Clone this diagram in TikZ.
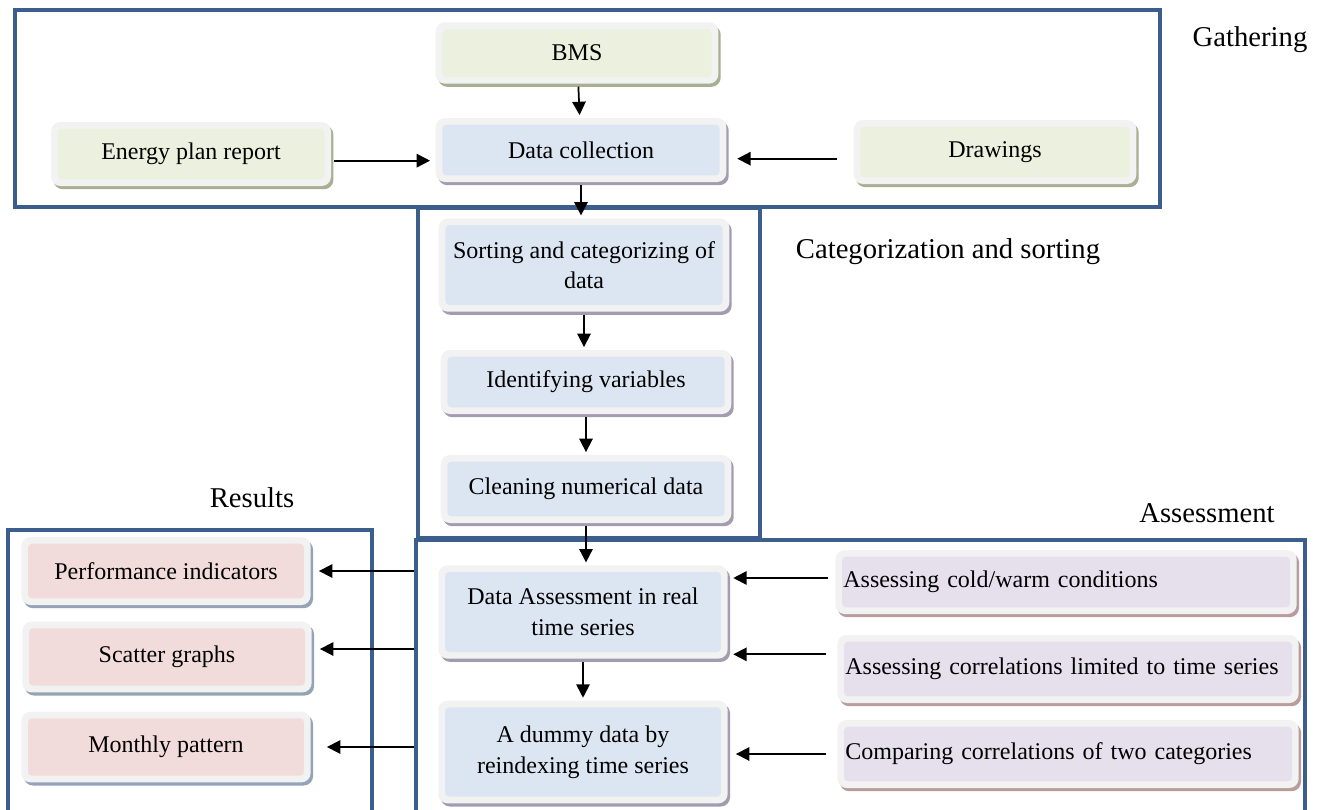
\documentclass[tikz,border=0pt]{standalone}
\usepackage{fontspec}
\setmainfont{Liberation Serif}
\usetikzlibrary{positioning,calc,shadows,arrows.meta}

\definecolor{framec}{HTML}{3B5E8C}
\definecolor{cardedge}{HTML}{F2F2F2}
\definecolor{greenin}{HTML}{EBF1DE}
\definecolor{greensh}{HTML}{A9AF92}
\definecolor{bluein}{HTML}{DCE6F2}
\definecolor{bluesh}{HTML}{A39CB0}
\definecolor{pinkin}{HTML}{F2DCDB}
\definecolor{pinksh}{HTML}{94A3B8}
\definecolor{purplein}{HTML}{E5E0EC}
\definecolor{purplesh}{HTML}{B99C9C}

\newcommand\boxfont{\fontsize{18}{23}\selectfont}
\newcommand\headfont{\fontsize{21.5}{26}\selectfont}

\begin{document}
\begin{tikzpicture}[
    x=0.75pt, y=-0.75pt,
    card/.style n args={2}{rounded corners=7pt, fill=cardedge, inner sep=0pt,
        drop shadow={shadow xshift=1.8pt, shadow yshift=-2.4pt, fill=#2, opacity=1},
        path picture={\fill[#1, rounded corners=3pt]
            ([shift={(5pt,-5pt)}]path picture bounding box.north west) rectangle
            ([shift={(-5pt,5pt)}]path picture bounding box.south east);},
        font=\boxfont, align=center},
    greencard/.style={card={greenin}{greensh}},
    bluecard/.style={card={bluein}{bluesh}},
    pinkcard/.style={card={pinkin}{pinksh}},
    purplecard/.style={card={purplein}{purplesh}, align=left, inner xsep=6pt, text width=334pt},
    stage/.style={draw=framec, line width=3pt, inner sep=0pt},
    stagelabel/.style={font=\headfont},
    arr/.style={-{Triangle[length=10pt,width=10pt]}, line width=1.3pt, draw=black, shorten >=2pt, shorten <=2pt}
]
    \clip (0,0) rectangle (1322,810);

    % Stage frames
    \node[stage, minimum width=858.75pt, minimum height=147.75pt] (gather) at (587.5,108.5) {};
    \node[stage, minimum width=256.5pt, minimum height=247.5pt] (categ) at (589,373) {};
    \node[stage, minimum width=273pt, minimum height=217.5pt] (results) at (190,675) {};
    \node[stage, minimum width=666.75pt, minimum height=210pt] (assess) at (860.5,680) {};

    \node[stagelabel] (gatherlbl) at (1250,40) {Gathering};
    \node[stagelabel] (categlbl) at (948,252) {Categorization and sorting};
    \node[stagelabel] (resultslbl) at (252,498) {Results};
    \node[stagelabel] (assesslbl) at (1207,513) {Assessment};

    % Gathering
    \node[greencard, minimum width=212pt, minimum height=46pt] (bms) at (577,53) {BMS};
    \node[bluecard, minimum width=218pt, minimum height=48pt] (dc) at (581,150) {Data collection};
    \node[greencard, minimum width=210pt, minimum height=48pt] (energy) at (191,154) {Energy plan report};
    \node[greencard, minimum width=212pt, minimum height=48pt] (drawings) at (995,152) {Drawings};

    % Categorization and sorting
    \node[bluecard, minimum width=218pt, minimum height=70pt] (sorting) at (584,265) {Sorting and categorizing of\\data};
    \node[bluecard, minimum width=218pt, minimum height=48pt] (ident) at (586,382) {Identifying variables};
    \node[bluecard, minimum width=218pt, minimum height=51pt] (clean) at (586,489) {Cleaning numerical data};

    % Assessment
    \node[bluecard, minimum width=217pt, minimum height=70pt] (dataA) at (583,612) {Data Assessment in real\\time series};
    \node[bluecard, minimum width=217pt, minimum height=77pt] (dummy) at (583,752) {A dummy data by\\reindexing time series};
    \node[purplecard, minimum height=48pt] (cold) at (1066,582) {Assessing cold/warm conditions};
    \node[purplecard, minimum height=51pt] (corr) at (1068,669) {Assessing correlations limited to time series};
    \node[purplecard, minimum height=51pt] (comp) at (1068,754) {Comparing correlations of two categories};

    % Results
    \node[pinkcard, minimum width=217pt, minimum height=51pt] (perf) at (166,571) {Performance indicators};
    \node[pinkcard, minimum width=217pt, minimum height=53pt] (scatter) at (167,657) {Scatter graphs};
    \node[pinkcard, minimum width=217pt, minimum height=53pt] (monthly) at (166,747) {Monthly pattern};

    % Connectors
    \draw[arr] (bms) -- (dc);
    \draw[arr, shorten >=4pt] ([yshift=-5pt]energy.east) -- ([yshift=-5pt]energy.east -| dc.west);
    \draw[arr, shorten <=12pt, shorten >=8pt] ([yshift=-5pt]drawings.west) -- ([yshift=-5pt]drawings.west -| dc.east);
    \draw[arr] (dc) -- (dc.south |- sorting.north);
    \draw[arr] (sorting) -- (sorting.south |- ident.north);
    \draw[arr] (ident) -- (ident.south |- clean.north);
    \draw[arr] (clean) -- (clean.south |- dataA.north);
    \draw[arr] (dataA) -- (dataA.south |- dummy.north);
    \draw[arr, shorten <=5pt, shorten >=4pt] ([yshift=3pt]cold.west) -- ([yshift=3pt]cold.west -| dataA.east);
    \draw[arr, shorten <=8pt, shorten >=4pt] ([yshift=11pt]corr.west) -- ([yshift=11pt]corr.west -| dataA.east);
    \draw[arr, shorten <=8pt, shorten >=6pt] (comp.west) -- (comp.west -| dummy.east);
    \draw[arr, shorten <=0pt, shorten >=6pt] (perf.east -| assess.west) -- (perf.east);
    \draw[arr, shorten <=0pt, shorten >=6pt] ([yshift=6pt]scatter.east -| assess.west) -- ([yshift=6pt]scatter.east);
    \draw[arr, shorten <=0pt, shorten >=12pt] (monthly.east -| assess.west) -- (monthly.east);

\end{tikzpicture}
\end{document}
